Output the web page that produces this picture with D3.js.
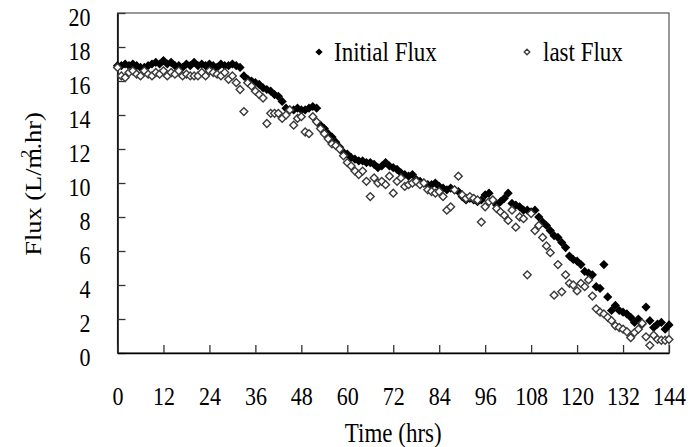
<!DOCTYPE html>
<html>
<head>
<meta charset="utf-8">
<script src="https://cdn.jsdelivr.net/npm/d3@7"></script>
<style>
  html, body { margin: 0; padding: 0; background: #fff; }
  svg { display: block; }
  text { font-family: "Liberation Serif", "Times New Roman", serif; fill: #000; }
</style>
</head>
<body>
<svg id="chart" width="690" height="447"></svg>
<script>
// ---- data ----
const hours = d3.range(0, 145);
const initialFlux = [
  16.9,16.9,17.0,16.9,17.0,16.9,16.8,16.8,16.9,17.0,
  17.1,17.0,17.2,17.0,17.1,16.9,16.9,16.8,17.0,16.9,
  17.1,16.9,17.0,16.9,17.0,16.9,16.8,17.0,16.9,16.9,
  17.0,16.9,16.8,16.3,16.1,16.0,15.9,15.8,15.6,15.5,
  15.4,15.2,15.1,14.8,14.4,14.3,14.3,14.4,14.3,14.3,
  14.4,14.5,14.4,13.4,13.2,12.9,12.7,12.4,12.1,11.8,
  11.7,11.5,11.4,11.3,11.3,11.2,11.2,11.1,10.9,11.0,
  11.2,11.0,10.9,10.8,10.6,10.5,10.4,10.5,10.2,10.1,
  10.0,9.9,9.9,10.0,9.8,9.7,9.6,9.7,9.6,9.5,
  9.2,9.0,9.1,9.0,8.9,9.0,9.3,9.4,9.0,8.7,
  8.9,9.1,9.4,8.8,8.7,8.6,8.4,8.4,8.3,8.4,
  8.0,7.7,7.5,7.2,6.9,6.8,6.5,6.2,5.7,5.5,
  5.4,5.2,4.8,4.7,4.6,3.9,3.8,5.2,3.3,2.5,
  2.8,2.5,2.4,2.3,2.1,1.8,2.0,1.7,2.7,1.9,
  1.5,1.7,1.8,1.4,1.65
];
const lastFlux = [
  16.8,16.3,16.2,16.5,16.6,16.4,16.3,16.6,16.4,16.3,
  16.5,16.4,16.6,16.3,16.5,16.4,16.6,16.3,16.4,16.3,
  16.3,16.3,16.5,16.3,16.6,16.5,16.4,16.3,16.5,16.1,
  16.3,15.9,15.5,14.2,15.9,15.7,15.4,15.2,15.0,13.5,
  14.1,14.1,14.1,13.8,14.0,14.3,13.4,13.8,13.9,13.0,
  12.9,13.9,13.6,13.2,12.9,12.6,12.3,12.2,12.0,11.6,
  11.2,11.0,10.7,10.5,10.7,10.1,9.2,10.3,10.0,10.1,
  9.9,10.4,9.4,10.1,10.3,9.8,9.9,10.0,10.1,9.9,
  10.0,9.6,9.5,9.4,9.5,9.2,8.4,8.6,9.6,10.4,
  9.3,9.1,9.2,9.1,9.0,7.7,8.6,8.9,9.0,8.5,
  8.3,8.1,7.8,8.4,7.4,8.0,7.9,4.6,8.2,7.2,
  7.5,6.8,6.3,5.9,3.4,5.2,3.6,4.6,4.1,4.0,
  3.65,4.1,3.9,4.3,3.35,2.6,2.4,2.3,2.1,1.9,
  1.6,1.5,1.4,1.25,0.9,1.2,1.4,1.75,0.95,0.45,
  1.05,0.8,0.75,0.75,0.8
];
const xTicks = [0,12,24,36,48,60,72,84,96,108,120,132,144];
const yTicks = [0,2,4,6,8,10,12,14,16,18,20];
const seriesNames = ["Initial Flux", "last Flux"];
const xTitle = "Time (hrs)";

// ---- layout ----
const svg = d3.select("#chart");
const pL = 117.5, pR = 669, pT = 13, pB = 353;
const x = d3.scaleLinear().domain([0, 144]).range([pL, pR]);
const y = d3.scaleLinear().domain([0, 20]).range([pB, pT]);
const STRETCH = 1.15;

// frame
svg.append("rect")
  .attr("x", pL).attr("y", pT)
  .attr("width", pR - pL).attr("height", pB - pT)
  .attr("fill", "none").attr("stroke", "#555").attr("stroke-width", 1.2);

// y axis
const gy = svg.append("g")
  .attr("transform", `translate(${pL},0)`)
  .call(d3.axisLeft(y).tickValues(yTicks).tickSize(-8).tickSizeOuter(0).tickFormat(d => d));
gy.select(".domain").attr("stroke", "#000").attr("stroke-width", 1.5);
gy.selectAll(".tick line").attr("stroke", "#333").attr("stroke-width", 1.3);
gy.selectAll(".tick text")
  .attr("x", null).attr("dy", null)
  .attr("font-size", 22).attr("text-anchor", "end")
  .attr("transform", `translate(-27,12) scale(1,${STRETCH})`);

// x axis
const gx = svg.append("g")
  .attr("transform", `translate(0,${pB})`)
  .call(d3.axisBottom(x).tickValues(xTicks).tickSize(-8).tickSizeOuter(0).tickFormat(d => d));
gx.select(".domain").attr("stroke", "#000").attr("stroke-width", 1.5);
gx.selectAll(".tick line").attr("stroke", "#333").attr("stroke-width", 1.3);
gx.selectAll(".tick text")
  .attr("y", null).attr("dy", null)
  .attr("font-size", 22).attr("text-anchor", "middle")
  .attr("transform", `translate(0,52) scale(1,${STRETCH})`);

// axis titles
svg.append("text")
  .attr("font-size", 23).attr("text-anchor", "middle")
  .attr("transform", `translate(${(pL + pR) / 2},442) scale(1,${STRETCH})`)
  .text(xTitle);

const yt = svg.append("text")
  .attr("font-size", 23).attr("text-anchor", "middle")
  .attr("transform", `translate(41,184) rotate(-90) scale(${STRETCH},1)`);
yt.append("tspan").text("Flux (L/m");
yt.append("tspan").attr("font-size", 15).attr("dx", -9).attr("dy", -10).text("2");
yt.append("tspan").attr("dy", 10).text(".hr)");

// markers
const diamond = r => `M0,${-r}L${r},0L0,${r}L${-r},0Z`;
const dataInit = hours.map((h, i) => ({ h, v: initialFlux[i] }));
const dataLast = hours.map((h, i) => ({ h, v: lastFlux[i] }));

svg.append("g").selectAll("path").data(dataInit).join("path")
  .attr("d", diamond(4.6))
  .attr("transform", d => `translate(${x(d.h)},${y(d.v)})`)
  .attr("fill", "#000");

svg.append("g").selectAll("path").data(dataLast).join("path")
  .attr("d", diamond(3.9))
  .attr("transform", d => `translate(${x(d.h)},${y(d.v)})`)
  .attr("fill", "#fff").attr("stroke", "#3a3a3a").attr("stroke-width", 1.4);

// legend
const lg = svg.append("g");
lg.append("path").attr("d", diamond(3.6)).attr("transform", "translate(319,52)").attr("fill", "#000");
lg.append("text").attr("font-size", 23)
  .attr("transform", `translate(334,61) scale(1,${STRETCH})`).text(seriesNames[0]);
lg.append("path").attr("d", diamond(2.8)).attr("transform", "translate(527,52)")
  .attr("fill", "#fff").attr("stroke", "#3a3a3a").attr("stroke-width", 1.3);
lg.append("text").attr("font-size", 23)
  .attr("transform", `translate(543,61) scale(1,${STRETCH})`).text(seriesNames[1]);
</script>
</body>
</html>
